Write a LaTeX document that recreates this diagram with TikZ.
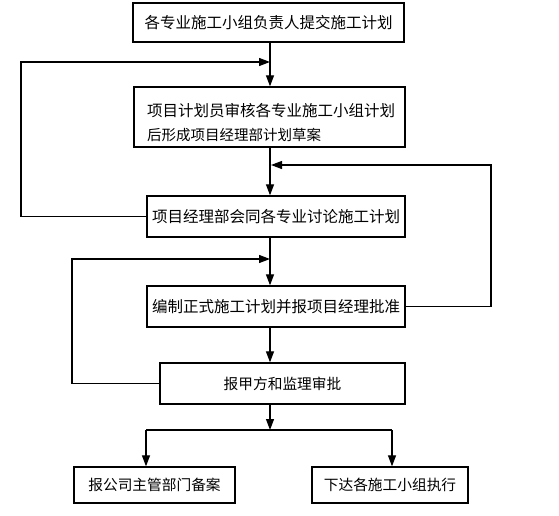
\documentclass[tikz,border=0pt]{standalone}
\usepackage{fontspec}
\setmainfont{Noto Sans CJK SC}
\usetikzlibrary{arrows.meta}
\begin{document}
\begin{tikzpicture}[x=1pt,y=-1pt,
  box/.style={draw,line width=1.3pt,inner sep=0pt,font=\fontsize{15.5}{18}\selectfont},
  sbox/.style={draw,line width=1.3pt,inner sep=0pt,font=\fontsize{14.7}{17}\selectfont},
  conn/.style={line width=1.2pt},
  arr/.style={line width=1.2pt,-{Triangle[length=11pt,width=8pt]}}]
\useasboundingbox (0,0) rectangle (559,516);
\fill[white] (0,0) rectangle (559,516);
% boxes
\node[box,minimum width=271pt,minimum height=39pt] (b1) at (268.5,22.5) {各专业施工小组负责人提交施工计划};
\node[box,minimum width=271pt,minimum height=60pt] (b2) at (269.5,117) {};
\node[anchor=west,inner sep=0pt,font=\fontsize{15.5}{18}\selectfont] (t2a) at (147,111) {项目计划员审核各专业施工小组计划};
\node[anchor=west,inner sep=0pt,font=\fontsize{14.5}{17}\selectfont] (t2b) at (147,135) {后形成项目经理部计划草案};
\node[box,minimum width=258pt,minimum height=41pt] (b3) at (276,216.5) {项目经理部会同各专业讨论施工计划};
\node[box,minimum width=258pt,minimum height=41pt] (b4) at (276,306.5) {编制正式施工计划并报项目经理批准};
\node[sbox,minimum width=245pt,minimum height=41pt] (b5) at (282.5,383.5) {报甲方和监理审批};
\node[sbox,minimum width=161pt,minimum height=36pt] (b6) at (154.5,485) {报公司主管部门备案};
\node[sbox,minimum width=156pt,minimum height=36pt] (b7) at (390,485) {下达各施工小组执行};
% helper coordinates
\coordinate (sp) at (270,0);
\coordinate (L1) at (21,62);
\coordinate (J1) at (270,62);
\coordinate (R1) at (491,165);
\coordinate (J2) at (271,165);
\coordinate (L2) at (72,259);
\coordinate (J3) at (270,259);
\coordinate (S) at (270,430);
\coordinate (BL) at (146,430);
\coordinate (BR) at (392,430);
% main flow
\draw[arr] (b1.south -| sp) -- (b2.north -| sp);
\draw[arr] (b2.south -| sp) -- (b3.north -| sp);
\draw[arr] (b3.south -| sp) -- (b4.north -| sp);
\draw[arr] (b4.south -| sp) -- (b5.north -| sp);
\draw[arr] (b5.south -| sp) -- (S);
\draw[conn] (BL) -- (BR);
\draw[arr] (BL) -- (b6.north -| BL);
\draw[arr] (BR) -- (b7.north -| BR);
% feedback loops
\draw[arr] (b3.west) -| (L1) -- (J1);
\draw[arr] (b4.east) -| (R1) -- (J2);
\draw[arr] (b5.west) -| (L2) -- (J3);
\end{tikzpicture}
\end{document}
